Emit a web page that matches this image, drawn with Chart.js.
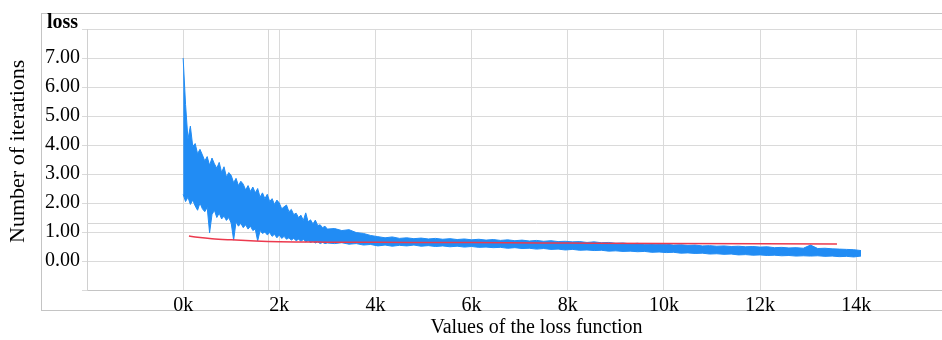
<!DOCTYPE html>
<html>
<head>
<meta charset="utf-8">
<script src="https://cdn.jsdelivr.net/npm/chart.js@4.4.1/dist/chart.umd.min.js"></script>
<style>
    body { margin: 0; background: #ffffff; overflow: hidden; }
    #area_grafico { position: absolute; left: 0; top: 0; width: 1000px; height: 340px; }
</style>
</head>
<body>
<div id="area_grafico">
    <canvas id="chart_loss"></canvas>
</div>
<script>
// faixa da perda (maximo / minimo) a cada 50 iteracoes, de 0 a 3000
var perdaMaxInicio = [
    7.00, 5.40, 4.20, 4.65, 3.95, 4.05, 3.70, 3.85, 3.66, 3.45,
    3.60, 3.30, 3.55, 3.35, 3.20, 3.40, 3.05, 3.25, 2.90, 3.05,
    2.95, 2.70, 2.85, 2.60, 2.75, 2.65, 2.45, 2.60, 2.40, 2.55,
    2.35, 2.50, 2.20, 2.35, 2.15, 2.30, 2.05, 2.15, 1.95, 2.10,
    2.00, 1.80, 1.87, 1.93, 1.70, 1.78, 1.60, 1.65, 1.50, 1.58,
    1.40, 1.66, 1.35, 1.42, 1.28, 1.41, 1.22, 1.25, 1.15, 1.20,
    1.10
];
var perdaMinInicio = [
    2.30, 2.05, 2.20, 1.95, 2.10, 1.90, 1.75, 2.00, 1.80, 1.70,
    1.85, 0.97, 1.60, 1.75, 1.50, 1.65, 1.45, 1.55, 1.40, 1.50,
    1.30, 0.72, 1.35, 1.20, 1.30, 1.15, 1.25, 1.10, 1.20, 1.05,
    1.10, 0.69, 1.05, 0.95, 1.00, 0.90, 0.98, 0.85, 0.92, 0.80,
    0.90, 0.78, 0.85, 0.75, 0.80, 0.72, 0.78, 0.70, 0.75, 0.68,
    0.74, 0.66, 0.70, 0.64, 0.68, 0.62, 0.66, 0.60, 0.64, 0.60,
    0.62
];

// faixa da perda a cada 150 iteracoes, de 3150 a 14100
var perdaMaxFinal = [
    1.12, 1.05, 1.08, 0.98, 0.95, 0.88, 0.84, 0.80, 0.83, 0.78,
    0.80, 0.77, 0.79, 0.76, 0.78, 0.75, 0.77, 0.74, 0.76, 0.73,
    0.75, 0.72, 0.74, 0.71, 0.73, 0.70, 0.72, 0.69, 0.71, 0.68,
    0.70, 0.67, 0.68, 0.66, 0.67, 0.64, 0.66, 0.63, 0.64, 0.61,
    0.62, 0.59, 0.61, 0.58, 0.59, 0.57, 0.58, 0.55, 0.56, 0.54,
    0.55, 0.52, 0.53, 0.51, 0.52, 0.50, 0.51, 0.49, 0.50, 0.48,
    0.49, 0.46, 0.47, 0.45, 0.46, 0.44, 0.55, 0.43, 0.44, 0.42,
    0.41, 0.40, 0.39, 0.36
];
var perdaMinFinal = [
    0.60, 0.63, 0.58, 0.60, 0.55, 0.57, 0.52, 0.55, 0.51, 0.54,
    0.52, 0.55, 0.51, 0.53, 0.50, 0.52, 0.49, 0.51, 0.48, 0.50,
    0.47, 0.48, 0.46, 0.47, 0.44, 0.46, 0.43, 0.44, 0.41, 0.43,
    0.40, 0.41, 0.38, 0.40, 0.37, 0.38, 0.36, 0.37, 0.34, 0.35,
    0.33, 0.34, 0.32, 0.33, 0.30, 0.31, 0.29, 0.30, 0.27, 0.28,
    0.26, 0.27, 0.24, 0.25, 0.23, 0.24, 0.21, 0.22, 0.20, 0.21,
    0.19, 0.20, 0.18, 0.19, 0.17, 0.18, 0.17, 0.18, 0.16, 0.17,
    0.15, 0.16, 0.14, 0.17
];

// curva suavizada (vermelha)
var iteracoesMedia = [120, 300, 600, 1000, 1500, 2000, 3000, 4000, 6000, 8000, 10000, 12000, 13600];
var perdaMedia = [0.86, 0.82, 0.77, 0.73, 0.69, 0.665, 0.65, 0.645, 0.635, 0.62, 0.605, 0.595, 0.59];

// marcas do eixo x
var ticksX = [-2000, 0, 2000, 4000, 6000, 8000, 10000, 12000, 14000, 16000];

// linhas do cursor que aparecem no print
var cursorIteracao = 1765;
var cursorPerda = 1.31;

var tituloGrafico = "loss";
var tituloEixoX = "Values of the loss function";
var tituloEixoY = "   Number of iterations";

var fonteSerif = "'Liberation Serif', 'Times New Roman', serif";
var azul = 'rgb(33, 140, 244)';

const moldura = {
    id: 'moldura',
    beforeDraw(chart) {
        const ctx = chart.ctx;
        ctx.save();
        ctx.strokeStyle = '#c4c4c4';
        ctx.lineWidth = 1;
        ctx.strokeRect(41.5, 13.5, 1000, 297);
        ctx.restore();
    },
    beforeDatasetsDraw(chart) {
        const ctx = chart.ctx;
        const area = chart.chartArea;
        const x = Math.round(chart.scales.x.getPixelForValue(cursorIteracao)) + 0.5;
        const y = Math.round(chart.scales.y.getPixelForValue(cursorPerda)) + 0.5;
        ctx.save();
        ctx.strokeStyle = '#d6d6d6';
        ctx.lineWidth = 1;
        ctx.beginPath();
        ctx.moveTo(x, area.top);
        ctx.lineTo(x, area.bottom);
        ctx.moveTo(area.left, y);
        ctx.lineTo(area.right, y);
        ctx.stroke();
        ctx.restore();
    },
    afterDraw(chart) {
        const ctx = chart.ctx;
        ctx.save();
        ctx.font = "bold 20px " + fonteSerif;
        ctx.fillStyle = '#000000';
        ctx.textBaseline = 'alphabetic';
        ctx.fillText(tituloGrafico, 47, 28);
        ctx.restore();
    }
};

function plotarGrafico() {
    // montando os pontos das bordas da faixa azul
    let pontosMax = [];
    let pontosMin = [];
    for (let i = 0; i < perdaMaxInicio.length; i++) {
        pontosMax.push({ x: i * 50, y: perdaMaxInicio[i] });
        pontosMin.push({ x: i * 50, y: perdaMinInicio[i] });
    }
    for (let i = 0; i < perdaMaxFinal.length; i++) {
        pontosMax.push({ x: 3150 + i * 150, y: perdaMaxFinal[i] });
        pontosMin.push({ x: 3150 + i * 150, y: perdaMinFinal[i] });
    }

    let pontosMedia = [];
    for (let i = 0; i < iteracoesMedia.length; i++) {
        pontosMedia.push({ x: iteracoesMedia[i], y: perdaMedia[i] });
    }

    let dados = {
        datasets: [{
            label: 'media',
            data: pontosMedia,
            borderColor: 'rgb(236, 58, 78)',
            borderWidth: 1.5,
            pointRadius: 0,
            cubicInterpolationMode: 'monotone',
            fill: false
        }, {
            label: 'loss max',
            data: pontosMax,
            borderColor: azul,
            borderWidth: 1,
            pointRadius: 0,
            tension: 0,
            fill: false
        }, {
            label: 'loss min',
            data: pontosMin,
            borderColor: azul,
            backgroundColor: azul,
            borderWidth: 1,
            pointRadius: 0,
            tension: 0,
            fill: '-1'
        }]
    };

    const config = {
        type: 'line',
        data: dados,
        options: {
            responsive: true,
            maintainAspectRatio: false,
            animation: false,
            devicePixelRatio: 1,
            layout: { padding: { left: 0, top: 29, right: 14, bottom: 0 } },
            plugins: {
                legend: { display: false },
                tooltip: { enabled: false }
            },
            scales: {
                x: {
                    type: 'linear',
                    min: -2000,
                    max: 16700,
                    afterFit: function (scale) { scale.height = 50; },
                    afterBuildTicks: function (scale) {
                        scale.ticks = ticksX.map(function (v) { return { value: v }; });
                    },
                    ticks: {
                        padding: 4,
                        maxRotation: 0,
                        autoSkip: false,
                        color: '#000000',
                        font: { family: fonteSerif, size: 20 },
                        callback: function (valor) {
                            if (valor < 0 || valor > 14000) return '';
                            return (valor / 1000) + 'k';
                        }
                    },
                    grid: { color: '#dadada', drawTicks: false },
                    border: { color: '#c4c4c4' },
                    title: {
                        display: true,
                        text: tituloEixoX,
                        color: '#000000',
                        font: { family: fonteSerif, size: 20 },
                        padding: { top: 0, bottom: 0 }
                    }
                },
                y: {
                    min: -1,
                    max: 8,
                    afterFit: function (scale) { scale.width = 87; },
                    ticks: {
                        stepSize: 1,
                        padding: 2,
                        color: '#000000',
                        font: { family: fonteSerif, size: 20 },
                        callback: function (valor) {
                            if (valor < 0 || valor > 7) return '';
                            return valor.toFixed(2);
                        }
                    },
                    grid: { color: '#dadada', tickLength: 5 },
                    border: { color: '#d0d0d0' },
                    title: {
                        display: true,
                        text: tituloEixoY,
                        color: '#000000',
                        font: { family: fonteSerif, size: 22 },
                        padding: { top: 5, bottom: 0 }
                    }
                }
            }
        },
        plugins: [moldura]
    };

    let myChart = new Chart(
        document.getElementById('chart_loss'),
        config,
    );
}

plotarGrafico();
</script>
</body>
</html>
